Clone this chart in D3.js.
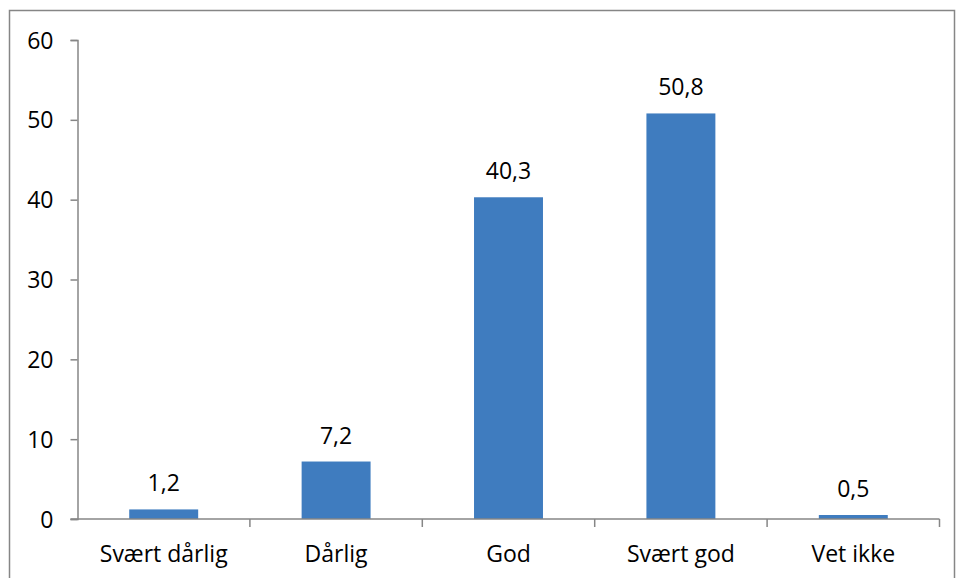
<!DOCTYPE html>
<html><head><meta charset="utf-8">
<script src="https://cdn.jsdelivr.net/npm/d3@7"></script>
<style>body{margin:0;background:#fff}svg{display:block}text{font-family:"Open Sans",sans-serif;fill:#000}</style>
</head><body><svg id="c" width="957" height="578"></svg>
<script>
const categories = ["Svært dårlig","Dårlig","God","Svært god","Vet ikke"];
const values = [1.2,7.2,40.3,50.8,0.5];
const labels = ["1,2","7,2","40,3","50,8","0,5"];
const yTicks = [0,10,20,30,40,50,60];

const svg = d3.select("#c");
svg.append("rect").attr("x",9.5).attr("y",10.5).attr("width",945).attr("height",600)
  .attr("fill","none").attr("stroke","#868686").attr("stroke-width",1.5);

const x0=77.5, x1=939.5, yTop=40, yBot=519;
const x = d3.scaleBand().domain(categories).range([x0,x1]).paddingInner(0.6).paddingOuter(0.3);
const y = d3.scaleLinear().domain([0,60]).range([yBot,yTop]);
const gray="#868686";
const fs="23px";

// y axis
const ya = svg.append("g").attr("transform",`translate(${x0},0)`)
  .call(d3.axisLeft(y).tickValues(yTicks).tickSize(7).tickPadding(17).tickFormat(d3.format("d")));
ya.select(".domain").attr("stroke",gray).attr("stroke-width",1.5);
ya.selectAll(".tick line").attr("stroke",gray).attr("stroke-width",1.5);
ya.selectAll("text").style("font-size",fs).attr("fill","#000").attr("dy","0.35em");

// bars
svg.selectAll("rect.bar").data(values).join("rect").attr("class","bar")
  .attr("x",(d,i)=>x(categories[i])).attr("width",x.bandwidth())
  .attr("y",d=>y(d)).attr("height",d=>y(0)-y(d)).attr("fill","#3F7CBF");

// x axis
const xb = d3.scaleLinear().domain([0,5]).range([x0,x1]);
const xa = svg.append("g").attr("transform",`translate(0,${yBot})`);
xa.append("line").attr("x1",x0-7).attr("x2",x1).attr("stroke",gray).attr("stroke-width",1.5);
xa.selectAll("line.t").data(d3.range(1,6)).join("line").attr("class","t")
  .attr("x1",d=>xb(d)).attr("x2",d=>xb(d)).attr("y1",0).attr("y2",8).attr("stroke",gray).attr("stroke-width",1.5);
xa.selectAll("text").data(categories).join("text")
  .attr("x",d=>x(d)+x.bandwidth()/2).attr("y",43).attr("text-anchor","middle")
  .style("font-size",fs).text(d=>d);

// labels
svg.selectAll("text.lbl").data(values).join("text").attr("class","lbl")
  .attr("x",(d,i)=>x(categories[i])+x.bandwidth()/2).attr("y",d=>y(d)-18)
  .attr("text-anchor","middle").style("font-size",fs).text((d,i)=>labels[i]);
</script></body></html>
